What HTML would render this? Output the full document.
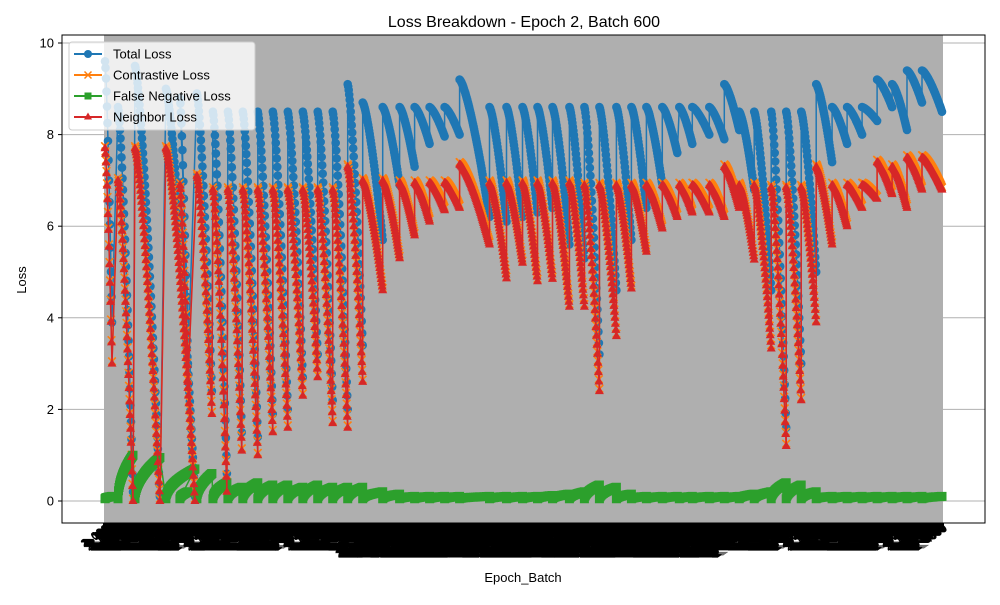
<!DOCTYPE html>
<html><head><meta charset="utf-8">
<style>
body{margin:0;background:#fff;}
svg{font-family:"Liberation Sans",sans-serif;}
</style></head>
<body>
<svg id="chart" width="1000" height="600" viewBox="0 0 1000 600" xmlns="http://www.w3.org/2000/svg">
<rect x="0" y="0" width="1000" height="600" fill="#fff"/>
<text x="524" y="27" font-size="16" text-anchor="middle">Loss Breakdown - Epoch 2, Batch 600</text>
<g id="grid"></g>
<rect x="104" y="35" width="839" height="488" fill="#afafaf"/>
<g id="series"></g>
<rect x="62" y="35" width="923" height="488" fill="none" stroke="#000" stroke-width="1"/>
<g id="yaxis"></g>
<g id="xaxis"></g>
<text x="523" y="582" font-size="13" text-anchor="middle">Epoch_Batch</text>
<text x="26" y="280" font-size="13" text-anchor="middle" transform="rotate(-90 26 280)">Loss</text>
<g>
<rect x="69" y="42" width="186" height="88" rx="3" fill="#fff" fill-opacity="0.8" stroke="#ccc"/>
<g><line x1="74" y1="54" x2="102" y2="54" stroke="#1f77b4" stroke-width="2"/><circle cx="88" cy="54" r="4" fill="#1f77b4"/><text x="113" y="58.5" font-size="13">Total Loss</text></g>
<g><line x1="74" y1="75" x2="102" y2="75" stroke="#ff7f0e" stroke-width="2"/><path d="M84.5 71.5l7 7M91.5 71.5l-7 7" stroke="#ff7f0e" stroke-width="1.5"/><text x="113" y="79.5" font-size="13">Contrastive Loss</text></g>
<g><line x1="74" y1="96" x2="102" y2="96" stroke="#2ca02c" stroke-width="2"/><rect x="84.5" y="92.5" width="7" height="7" fill="#2ca02c"/><text x="113" y="100.5" font-size="13">False Negative Loss</text></g>
<g><line x1="74" y1="117" x2="102" y2="117" stroke="#d62728" stroke-width="2"/><path d="M88 112.5l4 7h-8z" fill="#d62728"/><text x="113" y="121.5" font-size="13">Neighbor Loss</text></g>
</g>
</svg>
<script>
// Cycle data: batch index where each decay cycle starts / ends
const cycleStart = [1,14,31,62,76,93,109,124,139,154,169,184,199,214,229,244,259,279,296,311,326,341,356,386,403,419,434,449,466,481,496,513,528,543,559,576,589,606,621,636,651,668,683,698,713,729,744,759,774,789,804,819];
const cycleEnd   = [8,29,56,91,84,108,123,138,154,169,184,199,214,229,244,259,279,296,311,326,341,356,386,403,419,434,449,466,481,496,513,528,543,559,574,589,606,621,636,651,668,683,698,713,729,744,759,774,789,804,819,839];
const neighborPeak   = [7.7,7.0,7.7,7.7,6.9,7.1,6.8,6.8,6.8,6.8,6.8,6.8,6.8,6.8,6.8,7.3,7.0,7.0,6.95,6.95,6.95,6.95,7.35,6.95,6.95,6.95,6.95,6.95,6.95,6.9,6.9,6.9,6.9,6.9,6.9,6.9,6.9,6.9,7.3,6.9,6.9,6.85,6.85,6.85,7.3,6.9,6.9,6.9,7.4,7.3,7.5,7.5];
const neighborTrough = [3.0,0.0,0.0,0.0,2.6,1.9,0.2,1.1,1.0,1.5,1.6,2.3,2.7,1.7,1.6,2.6,4.6,5.3,5.8,6.1,6.35,6.4,5.6,4.86,5.2,4.8,4.85,4.24,4.24,2.4,3.6,4.64,5.44,5.95,6.2,6.3,6.3,6.2,6.4,5.27,3.33,1.2,2.2,3.9,5.6,6.0,6.4,6.6,6.7,6.4,6.8,6.8];
const contrastivePeak   = [7.75,7.05,7.75,7.75,6.95,7.15,6.85,6.85,6.85,6.85,6.85,6.85,6.85,6.85,6.85,7.35,7.05,7.05,7.0,7.0,7.0,7.0,7.4,7.0,7.0,7.0,7.0,7.0,7.0,6.95,6.95,6.95,6.95,6.95,6.95,6.95,6.95,6.95,7.35,6.95,6.95,6.9,6.9,6.9,7.35,6.95,6.95,6.95,7.45,7.35,7.55,7.55];
const contrastiveTrough = [3.05,0.05,0.05,0.05,2.65,1.95,0.25,1.15,1.05,1.55,1.65,2.35,2.75,1.75,1.65,2.65,4.65,5.35,5.85,6.15,6.4,6.45,5.65,4.9,5.25,4.85,4.9,4.3,4.3,2.45,3.65,4.7,5.5,6.0,6.25,6.35,6.35,6.25,6.45,5.3,3.4,1.25,2.25,3.95,5.65,6.05,6.45,6.65,6.75,6.45,6.85,6.85];
const totalPeak   = [9.6,8.6,9.5,9.0,8.8,8.9,8.5,8.5,8.5,8.5,8.5,8.5,8.5,8.5,8.5,9.1,8.7,8.6,8.6,8.6,8.6,8.6,9.2,8.6,8.6,8.6,8.6,8.6,8.6,8.6,8.6,8.6,8.6,8.6,8.6,8.6,8.6,8.6,9.1,8.5,8.5,8.5,8.5,8.5,9.1,8.6,8.6,8.6,9.2,9.1,9.4,9.4];
const totalTrough = [3.9,0.2,0.1,0.1,3.0,2.4,0.6,1.5,1.4,1.9,2.0,2.7,3.2,2.2,2.0,3.4,5.7,6.9,7.3,7.8,7.96,8.0,6.2,6.1,6.2,6.3,6.4,5.6,5.3,3.2,4.6,5.7,6.4,6.9,7.6,7.8,8.0,7.9,8.1,6.8,4.6,1.6,3.0,5.0,7.4,7.8,8.0,8.3,8.6,8.1,8.7,8.5];
const falseNegPeak = [0.1,1.0,0.95,0.7,0.2,0.6,0.4,0.3,0.4,0.35,0.35,0.3,0.35,0.3,0.3,0.3,0.2,0.15,0.1,0.1,0.1,0.1,0.1,0.1,0.1,0.1,0.12,0.15,0.2,0.35,0.3,0.15,0.1,0.1,0.1,0.1,0.1,0.1,0.1,0.15,0.2,0.4,0.35,0.2,0.1,0.1,0.1,0.1,0.1,0.1,0.1,0.1];
const yTicks = [0,2,4,6,8,10];

const NS = "http://www.w3.org/2000/svg";
const X0 = 104, X1 = 943, IDX_MAX = 840;
function xScale(i){ return X0 + (i / IDX_MAX) * (X1 - X0); }
function yScale(v){ return 501 - v * 45.8; }
function mk(tag, attrs, parent){ const e = document.createElementNS(NS, tag); for (const k in attrs) e.setAttribute(k, attrs[k]); parent.appendChild(e); return e; }

const grid = document.getElementById('grid'), yaxis = document.getElementById('yaxis');
yTicks.forEach(t => {
  const gl = mk('line', {x1:62, x2:985, y1:yScale(t), y2:yScale(t), stroke:'#b0b0b0', 'stroke-width':1}, grid);
  
  
  const tk = mk('line', {x1:58, x2:62, y1:yScale(t), y2:yScale(t), stroke:'#000'}, yaxis);
  
  
  const lb = mk('text', {x:54, y:yScale(t)+4.5, 'font-size':13, 'text-anchor':'end'}, yaxis);
  lb.textContent = String(t);
  
  
});

function buildSeries(peaks, troughs, isFalseNeg){
  const pts = [];
  for (let c = 0; c < cycleStart.length; c++){
    const s = cycleStart[c], e = cycleEnd[c];
    const n = Math.max(2, Math.round((e - s) * 2));
    for (let k = 0; k <= n; k++){
      const t = k / n;
      let v;
      if (isFalseNeg) v = 0.05 + (peaks[c] - 0.05) * Math.sqrt(t);
      else v = peaks[c] - (peaks[c] - troughs[c]) * Math.pow(t, 1.4);
      pts.push([xScale(s + (e - s) * t), yScale(v)]);
    }
  }
  return pts;
}

const layer = document.getElementById('series');
function drawSeries(pts, color, marker, name){
  const g = mk('g', {}, layer);
  
  
  const p = mk('path', {d:'M' + pts.map(q => q[0].toFixed(1) + ' ' + q[1].toFixed(1)).join('L'), fill:'none', stroke:color, 'stroke-width':1.5}, g);
  
  
  let d = '';
  pts.forEach(([x, y]) => {
    if (marker === 'circle') d += `M${(x-4.3).toFixed(1)} ${y.toFixed(1)}a4.3 4.3 0 1 0 8.6 0a4.3 4.3 0 1 0 -8.6 0z`;
    else if (marker === 'square') d += `M${(x-4.5).toFixed(1)} ${(y-4.5).toFixed(1)}h9v9h-9z`;
    else if (marker === 'tri') d += `M${x.toFixed(1)} ${(y-5).toFixed(1)}l4.5 8h-9z`;
    else d += `M${(x-3.8).toFixed(1)} ${(y-3.8).toFixed(1)}l7.6 7.6M${(x+3.8).toFixed(1)} ${(y-3.8).toFixed(1)}l-7.6 7.6`;
  });
  const m = mk('path', marker === 'x' ? {d, fill:'none', stroke:color, 'stroke-width':1.6} : {d, fill:color}, g);
  
  
}
drawSeries(buildSeries(totalPeak, totalTrough, false), '#1f77b4', 'circle', 'total-loss-series');
drawSeries(buildSeries(contrastivePeak, contrastiveTrough, false), '#ff7f0e', 'x', 'contrastive-loss-series');
drawSeries(buildSeries(falseNegPeak, falseNegPeak, true), '#2ca02c', 'square', 'false-negative-loss-series');
drawSeries(buildSeries(neighborPeak, neighborTrough, false), '#d62728', 'tri', 'neighbor-loss-series');

const xa = document.getElementById('xaxis');
const tb = mk('rect', {x:X0-1, y:523, width:X1-X0+2, height:5, fill:'#000'}, xa);


for (let i = 0; i <= IDX_MAX; i += 1){
  const x = xScale(i) + 5;
  const lbl = (i >= 270 && i < 650) ? '2_1' + (i % 1000) + '00' : '2_' + (i % 100) + '00';
  const t = mk('text', {x:x, y:530, 'font-size':11, 'font-weight':'bold', 'text-anchor':'end', transform:`rotate(-35 ${x.toFixed(1)} 530)`}, xa);
  t.textContent = lbl;
  
  
}
</script>
</body></html>
